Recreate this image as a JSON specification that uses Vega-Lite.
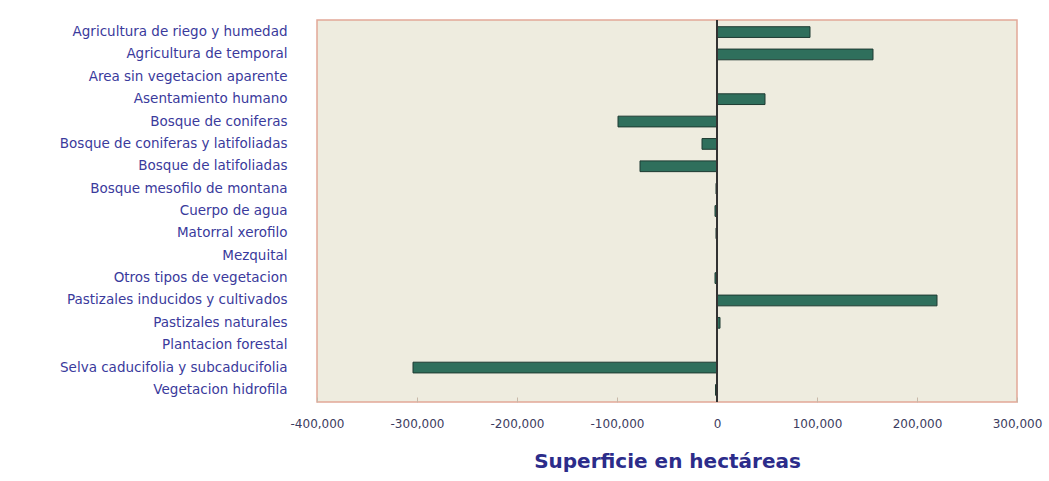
{
  "$schema": "https://vega.github.io/schema/vega-lite/v6.json",
  "autosize": {"type": "none"},
  "width": 700,
  "height": 382,
  "padding": {"left": 317, "top": 20, "right": 32, "bottom": 79},
  "background": "#ffffff",
  "config": {
    "font": "DejaVu Sans",
    "view": {"fill": "#eeecdf", "stroke": "#e2a898", "strokeWidth": 1.5}
  },
  "data": {
    "values": [
      {"tipo": "Agricultura de riego y humedad", "superficie": 93000},
      {"tipo": "Agricultura de temporal", "superficie": 156000},
      {"tipo": "Area sin vegetacion aparente", "superficie": 500},
      {"tipo": "Asentamiento humano", "superficie": 48000},
      {"tipo": "Bosque de coniferas", "superficie": -99000},
      {"tipo": "Bosque de coniferas y latifoliadas", "superficie": -15000},
      {"tipo": "Bosque de latifoliadas", "superficie": -77000},
      {"tipo": "Bosque mesofilo de montana", "superficie": -1000},
      {"tipo": "Cuerpo de agua", "superficie": -2000},
      {"tipo": "Matorral xerofilo", "superficie": -1000},
      {"tipo": "Mezquital", "superficie": 0},
      {"tipo": "Otros tipos de vegetacion", "superficie": -2000},
      {"tipo": "Pastizales inducidos y cultivados", "superficie": 220000},
      {"tipo": "Pastizales naturales", "superficie": 3000},
      {"tipo": "Plantacion forestal", "superficie": 500},
      {"tipo": "Selva caducifolia y subcaducifolia", "superficie": -304000},
      {"tipo": "Vegetacion hidrofila", "superficie": -1500}
    ]
  },
  "layer": [
    {
      "mark": {"type": "bar", "fill": "#2f6f5c", "stroke": "#1e3b32", "strokeWidth": 1},
      "encoding": {
        "y": {
          "field": "tipo",
          "type": "nominal",
          "sort": null,
          "scale": {"paddingInner": 0.52, "paddingOuter": 0.3},
          "axis": {
            "title": null,
            "domain": false,
            "ticks": false,
            "labelPadding": 30,
            "labelFontSize": 13.5,
            "labelColor": "#3a3a9c",
            "labelLimit": 320
          }
        },
        "x": {
          "field": "superficie",
          "type": "quantitative",
          "scale": {"domain": [-400000, 300000], "nice": false},
          "axis": {
            "title": "Superficie en hectáreas",
            "titleFontSize": 20,
            "titleFontWeight": "bold",
            "titleColor": "#2c2c8a",
            "titlePadding": 22,
            "values": [-400000, -300000, -200000, -100000, 0, 100000, 200000, 300000],
            "format": ",.0f",
            "labelExpr": "replace(datum.label, '−', '-')",
            "labelFlush": false,
            "labelFontSize": 12,
            "labelColor": "#3c3c60",
            "labelPadding": 21,
            "grid": false,
            "domain": false,
            "tickColor": "#c8b8a8",
            "tickSize": -5
          }
        }
      }
    },
    {
      "mark": {"type": "rule", "color": "#333333", "strokeWidth": 1.5},
      "encoding": {"x": {"datum": 0}}
    }
  ]
}
